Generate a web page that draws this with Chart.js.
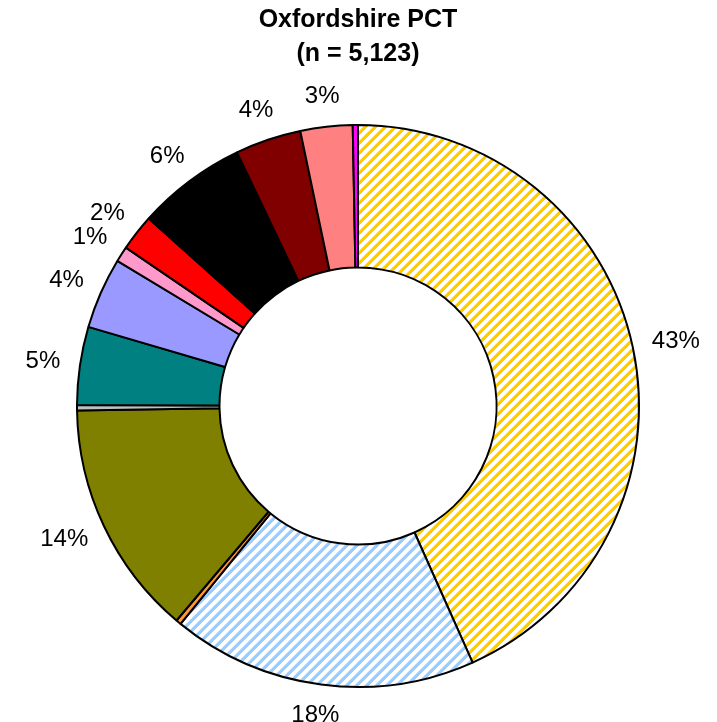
<!DOCTYPE html>
<html>
<head>
<meta charset="utf-8">
<script src="https://cdn.jsdelivr.net/npm/chart.js@4.4.0/dist/chart.umd.min.js"></script>
<style>
  html, body { margin: 0; padding: 0; background: #fff; }
  #wrap { width: 717px; height: 722px; }
</style>
</head>
<body>
<div id="wrap"><canvas id="pct"></canvas></div>
<script>
// --- data (percent of n = 5,123) ---
const categories = ['Group 1', 'Group 2', 'Group 3', 'Group 4', 'Group 5', 'Group 6', 'Group 7',
                    'Group 8', 'Group 9', 'Group 10', 'Group 11', 'Group 12', 'Group 13'];
const shares = [43.4, 17.6, 0.3, 13.6, 0.3, 4.5, 4.1, 0.9, 2.1, 6.3, 3.8, 3.0, 0.3];
const shareLabels = ['43%', '18%', '', '14%', '', '5%', '4%', '1%', '2%', '6%', '4%', '3%', ''];
const titleLines = ['Oxfordshire PCT', '(n = 5,123)'];

// stripes like the old Excel "wide upward diagonal" fill, built pixel by pixel so tiles join cleanly
function stripes(rgb, p, w) {
  const c = document.createElement('canvas');
  c.width = p; c.height = p;
  const g = c.getContext('2d');
  const img = g.createImageData(p, p);
  for (let y = 0; y < p; y++) {
    for (let x = 0; x < p; x++) {
      const s = (x + y + 1) % p;
      let a;
      if (s < w) a = Math.min(1, 0.5 + Math.min(s, w - s));
      else a = Math.max(0, 0.5 - Math.min(s - w, p - s));
      const i = (y * p + x) * 4;
      img.data[i] = Math.round(255 + (rgb[0] - 255) * a);
      img.data[i + 1] = Math.round(255 + (rgb[1] - 255) * a);
      img.data[i + 2] = Math.round(255 + (rgb[2] - 255) * a);
      img.data[i + 3] = 255;
    }
  }
  g.putImageData(img, 0, 0);
  return g.createPattern(c, 'repeat');
}

const ctx = document.getElementById('pct').getContext('2d');
const fills = [
  stripes([255, 204, 0], 10, 4.5),
  stripes([153, 204, 255], 10, 4.5),
  '#FF9933', '#808000', '#C0C0C0', '#008080', '#9999FF',
  '#FF99CC', '#FF0000', '#000000', '#800000', '#FF8080', '#FF00FF'
];

// outside labels, nearest edge of the text box a little past the rim
const outsideLabels = {
  id: 'outsideLabels',
  afterDatasetsDraw(chart) {
    const c = chart.ctx;
    const arcs = chart.getDatasetMeta(0).data;
    c.save();
    c.font = '24px "Liberation Sans", Arial, sans-serif';
    c.fillStyle = '#000';
    c.textAlign = 'center';
    c.textBaseline = 'middle';
    arcs.forEach((arc, i) => {
      const txt = shareLabels[i];
      if (!txt) return;
      const mid = (arc.startAngle + arc.endAngle) / 2;
      const dx = Math.cos(mid), dy = Math.sin(mid);
      const r = arc.outerRadius + 20;
      const w = c.measureText(txt).width;
      const x = arc.x + dx * r + dx * w / 2;
      const y = arc.y + dy * r + dy * 11;
      c.fillText(txt, x, y);
    });
    c.restore();
  }
};

new Chart(ctx, {
  type: 'doughnut',
  data: {
    labels: categories,
    datasets: [{
      data: shares,
      backgroundColor: fills,
      borderColor: '#000',
      borderWidth: 2,
      hoverOffset: 0
    }]
  },
  options: {
    responsive: true,
    maintainAspectRatio: false,
    animation: false,
    cutout: '49.3%',
    layout: { padding: { left: 76, right: 77, bottom: 34, top: 0 } },
    plugins: {
      legend: { display: false },
      tooltip: { enabled: true },
      title: {
        display: true,
        text: titleLines,
        color: '#000',
        font: { family: '"Liberation Sans", Arial, sans-serif', size: 25, weight: 'bold', lineHeight: 1.36 },
        padding: { top: 3, bottom: 53 }
      }
    }
  },
  plugins: [outsideLabels]
});
</script>
</body>
</html>
